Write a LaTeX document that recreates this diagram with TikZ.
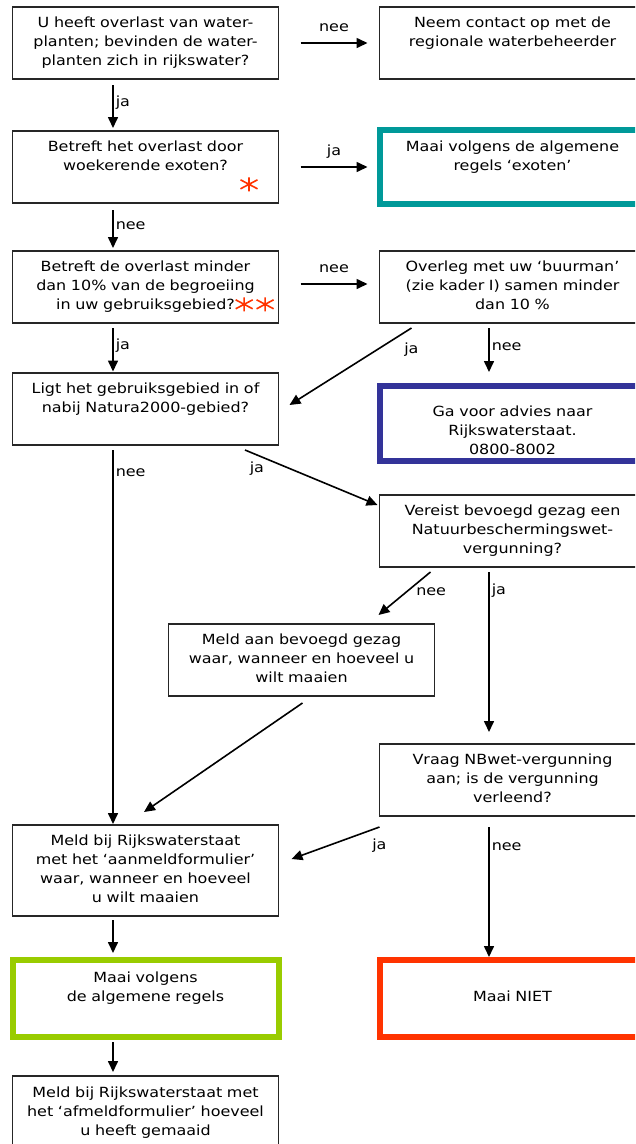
\documentclass[tikz,border=0pt]{standalone}
\usepackage{fontspec}
\setmainfont{DejaVu Sans}[FakeStretch=1.14]
\usetikzlibrary{positioning,arrows.meta}

\definecolor{exotencol}{HTML}{009999}
\definecolor{adviescol}{HTML}{333399}
\definecolor{maaicol}{HTML}{99CC00}
\definecolor{nietcol}{HTML}{FF3300}
\definecolor{starred}{HTML}{FF3300}

\newcommand{\flowfont}{\fontsize{14}{19}\selectfont}
\newcommand{\redstar}{\tikz[baseline=-5.5pt,x=1pt,y=1pt]{\draw[starred,line width=1.6pt] (0,-7) -- (0,7) (-8.5,-4.5) -- (8.5,4.5) (-8.5,4.5) -- (8.5,-4.5);}}

\tikzset{
	box/.style={draw=black!85, line width=1.3pt, text width=256pt, inner xsep=5pt, inner ysep=2pt, outer sep=0pt, align=center, minimum height=72pt, font=\flowfont},
	endbox/.style={box, line width=6pt},
	arr/.style={line width=1.6pt, -{Triangle[length=11pt,width=10pt]}},
	lbl/.style={font=\flowfont, inner sep=0pt},
}

\begin{document}
\begin{tikzpicture}[x=1pt, y=-1pt, every node/.append style={execute at begin node=\strut, execute at end node=\strut}]
	\useasboundingbox (0,0) rectangle (635,1144);
	\clip (0,0) rectangle (635,1144);

	\node[box] (q1) at (145.5,43) {U heeft overlast van water-\\planten; bevinden de water-\\planten zich in rijkswater?};
	\node[box, right=101pt of q1] (contact) {Neem contact op met de\\regionale waterbeheerder\\\mbox{}};
	\node[box, below=52pt of q1] (q2) {Betreft het overlast door\\woekerende exoten?\\\hspace*{207pt}\redstar};
	\node[endbox, draw=exotencol, minimum height=74pt, right=101pt of q2] (exoten) {Maai volgens de algemene\\regels ‘exoten’\\\mbox{}};
	\node[box, below=48pt of q2] (q3) {Betreft de overlast minder\\dan 10\% van de begroeiing\\in uw gebruiksgebied?\rlap{\redstar\,\redstar}};
	\node[box, right=101pt of q3] (buurman) {Overleg met uw ‘buurman’\\(zie kader I) samen minder\\dan 10 \%};
	\node[box, below=50pt of q3] (q4) {Ligt het gebruiksgebied in of\\nabij Natura2000-gebied?\\\mbox{}};
	\node[endbox, draw=adviescol, inner ysep=0pt, minimum height=75pt, below=62.5pt of buurman] (advies) {\rule{0pt}{31pt}Ga voor advies naar\\Rijkswaterstaat.\\0800-8002};
	\node[box, below=34.5pt of advies] (vereist) {Vereist bevoegd gezag een\\Natuurbeschermingswet-\\vergunning?};
	\node[box, below=57pt of vereist, xshift=-211pt] (bevoegd) {Meld aan bevoegd gezag\\waar, wanneer en hoeveel u\\wilt maaien};
	\node[box, below=177pt of vereist] (vraag) {Vraag NBwet-vergunning\\aan; is de vergunning\\verleend?};
	\node[box, minimum height=91pt, below=380pt of q4] (meldrws) {Meld bij Rijkswaterstaat\\met het ‘aanmeldformulier’\\waar, wanneer en hoeveel\\u wilt maaien};
	\node[endbox, draw=maaicol, minimum height=77pt, below=43.5pt of meldrws] (algemeen) {Maai volgens\\de algemene regels\\\mbox{}};
	\node[endbox, draw=nietcol, minimum height=77pt, right=101pt of algemeen] (niet) {Maai NIET};
	\node[box, minimum height=74pt, below=39.5pt of algemeen] (afmeld) {Meld bij Rijkswaterstaat met\\het ‘afmeldformulier’ hoeveel\\u heeft gemaaid};

	\draw[arr] ([xshift=22pt]q1.east) -- ([xshift=-12pt]contact.west) node[lbl, midway, anchor=base, yshift=12pt] {nee};
	\draw[arr] ([xshift=-32.5pt,yshift=-6pt]q1.south) -- ([xshift=-32.5pt,yshift=3pt]q2.north) node[lbl, midway, anchor=base west, xshift=2pt] {ja};
	\draw[arr] ([xshift=22pt]q2.east) -- ([xshift=-12pt]exoten.west) node[lbl, midway, anchor=base, yshift=12pt] {ja};
	\draw[arr] ([xshift=-32.5pt,yshift=-7pt]q2.south) -- ([xshift=-32.5pt,yshift=3pt]q3.north) node[lbl, midway, anchor=base west, xshift=2pt] {nee};
	\draw[arr] ([xshift=22pt,yshift=3pt]q3.east) -- ([xshift=-12pt,yshift=3pt]buurman.west) node[lbl, midway, anchor=base, yshift=12pt] {nee};
	\draw[arr] ([xshift=-32.5pt,yshift=-5pt]q3.south) -- ([xshift=-32.5pt,yshift=1.5pt]q4.north) node[lbl, midway, anchor=base west, xshift=2pt] {ja};
	\draw[arr] ([xshift=-101pt,yshift=-5pt]buurman.south) -- ([xshift=11pt,yshift=4pt]q4.east) node[lbl, pos=0, anchor=base west, xshift=-8pt, yshift=-25pt] {ja};
	\draw[arr] ([xshift=-23.5pt,yshift=-5pt]buurman.south) -- ([xshift=-23.5pt,yshift=13.5pt]advies.north) node[lbl, midway, anchor=base west, xshift=2pt] {nee};
	\draw[arr] ([xshift=-32.5pt,yshift=-5pt]q4.south) -- ([xshift=-32.5pt,yshift=1pt]meldrws.north) node[lbl, pos=0.07, anchor=base west, xshift=2pt] {nee};
	\draw[arr] ([xshift=99.5pt,yshift=-5pt]q4.south) -- ([xshift=-2pt,yshift=26pt]vereist.west) node[lbl, pos=0, anchor=base west, xshift=4pt, yshift=-22pt] {ja};
	\draw[arr] ([xshift=-82pt,yshift=-5pt]vereist.south) -- ([xshift=77pt,yshift=9pt]bevoegd.north) node[lbl, pos=0, anchor=base west, xshift=-15pt, yshift=-23pt] {nee};
	\draw[arr] ([xshift=-23.5pt,yshift=-5pt]vereist.south) -- ([xshift=-23.5pt,yshift=12pt]vraag.north) node[lbl, pos=0.14, anchor=base west, xshift=2pt] {ja};
	\draw[arr] ([xshift=1pt,yshift=-7pt]bevoegd.south) -- ([xshift=-1.5pt,yshift=13pt]meldrws.north);
	\draw[arr] ([yshift=-11pt]vraag.south west) -- ([xshift=13pt,yshift=11.5pt]meldrws.east) node[lbl, pos=0, anchor=base west, xshift=-8pt, yshift=-22pt] {ja};
	\draw[arr] ([xshift=-23.5pt,yshift=-11pt]vraag.south) -- ([xshift=-23.5pt,yshift=2.5pt]niet.north) node[lbl, pos=0.18, anchor=base west, xshift=2pt] {nee};
	\draw[arr] ([xshift=-32.5pt,yshift=-4pt]meldrws.south) -- ([xshift=-32.5pt,yshift=6.5pt]algemeen.north);
	\draw[arr] ([xshift=-32.5pt,yshift=-5.5pt]algemeen.south) -- ([xshift=-32.5pt,yshift=4pt]afmeld.north);
\end{tikzpicture}
\end{document}
